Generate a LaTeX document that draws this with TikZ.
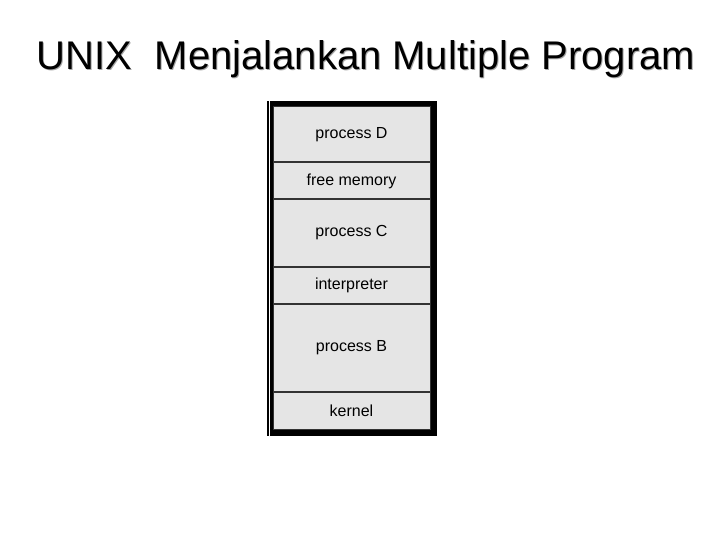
\documentclass[tikz,border=0pt]{standalone}
\usepackage{fontspec}
\setmainfont{Liberation Sans}
\usetikzlibrary{positioning}
\tikzset{
  seg/.style={draw=black!80, line width=1pt, fill=black!10, minimum width=157pt, inner sep=0pt, font=\fontsize{16}{18}\selectfont},
}
\newcommand{\seglabel}[1]{\raisebox{-5pt}{#1}}
\begin{document}
\begin{tikzpicture}[x=1pt,y=-1pt]
  \useasboundingbox (0,0) rectangle (720,540);

  \node [font=\fontsize{40}{44}\selectfont, text=black!35] at (367,60) (titleS) {UNIX\ \ Menjalankan Multiple Program};
  \node [font=\fontsize{40}{44}\selectfont] at (366,59) (title) {UNIX\ \ Menjalankan Multiple Program};

  % memory frame
  \fill (267,101) rectangle (437,436);
  \fill [white] (268.5,101) rectangle (269.5,436);

  \node [seg, minimum height=55pt, anchor=north west] at (272.5,106.5) (pD) {\seglabel{process D}};
  \node [seg, minimum height=36pt, below=0pt of pD] (free) {\seglabel{free memory}};
  \node [seg, minimum height=66pt, below=0pt of free] (pC) {\seglabel{process C}};
  \node [seg, minimum height=36pt, below=0pt of pC] (interp) {\seglabel{interpreter}};
  \node [seg, minimum height=87pt, below=0pt of interp] (pB) {\seglabel{process B}};
  \node [seg, minimum height=37pt, below=0pt of pB] (kern) {\seglabel{kernel}};
\end{tikzpicture}
\end{document}
